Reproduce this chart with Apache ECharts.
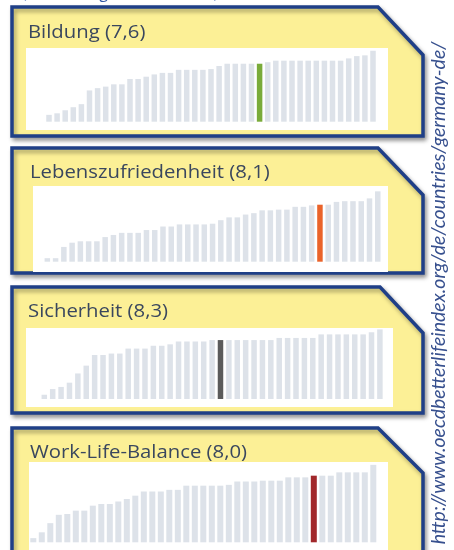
<!DOCTYPE html>
<html>
<head>
<meta charset="utf-8">
<script src="https://cdn.jsdelivr.net/npm/echarts@6/dist/echarts.min.js"></script>
<style>
  html, body { margin: 0; padding: 0; background: #fff; }
  #main { width: 454px; height: 550px; }
</style>
</head>
<body>
<div id="main"></div>
<script>
// Länder-Rang (aufsteigend sortiert), 41 Länder
var ranks = ['1','2','3','4','5','6','7','8','9','10','11','12','13','14','15','16','17','18','19','20',
  '21','22','23','24','25','26','27','28','29','30','31','32','33','34','35','36','37','38','39','40','41'];

// Punktwerte je Land (0-10), aus dem Bild geschaetzt
var bildung = [0.9, 1.1, 1.5, 1.9, 2.3, 4.1, 4.4, 4.6, 4.9, 4.9, 5.6, 5.6, 5.9, 6.2, 6.4, 6.4, 6.8, 6.8, 6.8, 6.8,
  6.9, 7.3, 7.6, 7.6, 7.6, 7.6, 7.6, 7.8, 8.0, 8.0, 8.0, 8.0, 8.0, 8.0, 8.0, 8.0, 8.0, 8.3, 8.6, 8.7, 9.3];
var lebenszufriedenheit = [0.5, 0.5, 2.1, 2.7, 2.9, 2.9, 2.9, 3.5, 3.8, 4.1, 4.1, 4.1, 4.5, 4.5, 5.0, 5.0, 5.3, 5.3, 5.3, 5.3,
  5.4, 5.9, 6.3, 6.3, 6.7, 6.9, 7.3, 7.3, 7.4, 7.4, 7.8, 7.8, 8.0, 8.1, 8.1, 8.5, 8.6, 8.6, 8.6, 9.0, 10.0];
var sicherheit = [0.6, 1.4, 1.7, 2.3, 3.6, 4.7, 6.2, 6.2, 6.4, 6.4, 7.1, 7.1, 7.1, 7.5, 7.5, 7.7, 8.1, 8.1, 8.1, 8.1,
  8.3, 8.3, 8.3, 8.3, 8.3, 8.3, 8.3, 8.3, 8.6, 8.6, 8.6, 8.6, 8.6, 9.1, 9.1, 9.1, 9.1, 9.1, 9.1, 9.4, 9.8];
var workLife = [0.5, 1.2, 2.3, 3.3, 3.4, 3.8, 3.8, 4.4, 4.6, 4.6, 4.9, 5.2, 5.6, 6.1, 6.1, 6.1, 6.3, 6.3, 6.8, 6.8,
  6.8, 6.8, 6.8, 6.9, 7.3, 7.3, 7.3, 7.4, 7.4, 7.4, 7.8, 7.8, 7.8, 8.0, 8.0, 8.0, 8.4, 8.4, 8.4, 8.4, 9.3];

// Titel und Position Deutschlands
var titles = ['Bildung (7,6)', 'Lebenszufriedenheit (8,1)', 'Sicherheit (8,3)', 'Work-Life-Balance (8,0)'];
var germanyIndex = [26, 33, 21, 33];

var seriesData = [bildung, lebenszufriedenheit, sicherheit, workLife];
var highlightColors = ['#7aab3a', '#ea632a', '#5b5b5b', '#a1282b'];

// Layout der vier Kaesten (Pixel)
var panels = [
  { top: 7,   cut: 378, cutY: 55,  bottom: 136, white: [26, 48, 362, 82],  titleX: 28, titleY: 33,
    grid: { left: 44.95, width: 332.1, top: 37.8, height: 83.9 }, barWidth: 5.5 },
  { top: 148, cut: 378, cutY: 195, bottom: 273, white: [33, 186, 355, 86], titleX: 30, titleY: 173,
    grid: { left: 43.2, width: 338.7, top: 184.3, height: 77.4 }, barWidth: 5.5 },
  { top: 287, cut: 380, cutY: 333, bottom: 413, white: [26, 328, 367, 79], titleX: 28, titleY: 312,
    grid: { left: 40.1, width: 344.0, top: 320.9, height: 78.1 }, barWidth: 5.5 },
  { top: 428, cut: 378, cutY: 473, bottom: 570, white: [29, 462, 359, 100], titleX: 30, titleY: 453,
    grid: { left: 29.05, width: 348.5, top: 450.7, height: 91.6 }, barWidth: 6 }
];

var chart = echarts.init(document.getElementById('main'), null, { renderer: 'canvas' });

var graphics = [];
var grids = [];
var xAxes = [];
var yAxes = [];
var series = [];

// Quelle oben (abgeschnitten)
graphics.push({
  type: 'text', z: 5, left: 22, top: -15,
  style: { text: '(Bewertung Deutschlands)', fill: '#2f55a4', font: '16px "Open Sans"' }
});

panels.forEach(function (p, i) {
  graphics.push({
    type: 'polygon', z: 0,
    shape: { points: [[12, p.top], [p.cut, p.top], [423, p.cutY], [423, p.bottom], [12, p.bottom]] },
    style: {
      fill: '#fcf096', stroke: '#1f3f87', lineWidth: 3.5,
      shadowBlur: 4, shadowOffsetX: 2, shadowOffsetY: 3, shadowColor: 'rgba(0,0,0,0.35)'
    }
  });
  graphics.push({
    type: 'rect', z: 1,
    shape: { x: p.white[0], y: p.white[1], width: p.white[2], height: p.white[3] },
    style: { fill: '#ffffff' }
  });
  // Bild ist waagerecht gestreckt, daher scaleX
  graphics.push({
    type: 'text', z: 5, x: p.titleX, y: p.titleY, scaleX: 1.16,
    style: { text: titles[i], fill: '#3a475e', font: '17.5px "Open Sans"', verticalAlign: 'middle' }
  });

  grids.push({ left: p.grid.left, width: p.grid.width, top: p.grid.top, height: p.grid.height });
  xAxes.push({ type: 'category', gridIndex: i, data: ranks, show: false });
  yAxes.push({ type: 'value', gridIndex: i, min: 0, max: 11, show: false });

  var data = seriesData[i].map(function (v, k) {
    if (k === germanyIndex[i]) {
      return { value: v, itemStyle: { color: highlightColors[i] } };
    }
    return v;
  });
  series.push({
    type: 'bar', xAxisIndex: i, yAxisIndex: i, data: data, z: 3,
    barWidth: p.barWidth, itemStyle: { color: '#dde2e9' }, silent: true, animation: false
  });
});

// Link am rechten Rand
graphics.push({
  type: 'text', z: 5, x: 439, y: 293, rotation: Math.PI / 2,
  style: {
    text: 'http://www.oecdbetterlifeindex.org/de/countries/germany-de/',
    fill: '#37508e', font: 'italic 19.5px Lato', align: 'center', verticalAlign: 'middle'
  }
});

chart.setOption({
  backgroundColor: '#ffffff',
  animation: false,
  grid: grids,
  xAxis: xAxes,
  yAxis: yAxes,
  series: series,
  graphic: { elements: graphics }
});
</script>
</body>
</html>
